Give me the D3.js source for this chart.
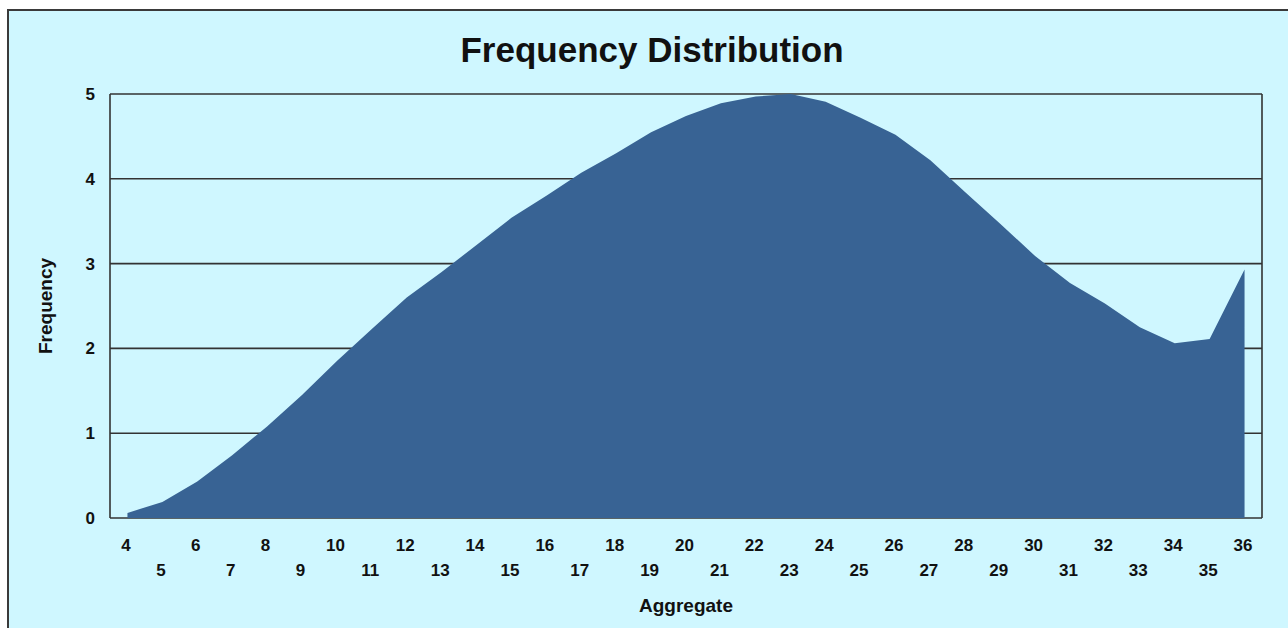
<!DOCTYPE html>
<html>
<head>
<meta charset="utf-8">
<script src="https://cdn.jsdelivr.net/npm/d3@7"></script>
<style>
  html, body { margin: 0; padding: 0; background: #ffffff; }
  svg { display: block; }
  text { font-family: "Liberation Sans", Arial, sans-serif; fill: #111; }
</style>
</head>
<body>
<svg id="chart" width="1288" height="628"></svg>
<script>
// ---- data ----
const categories = [4,5,6,7,8,9,10,11,12,13,14,15,16,17,18,19,20,21,22,23,24,25,26,27,28,29,30,31,32,33,34,35,36];
const frequency  = [0.06,0.19,0.43,0.74,1.08,1.45,1.85,2.23,2.6,2.9,3.22,3.54,3.8,4.07,4.3,4.55,4.74,4.89,4.97,5.0,4.91,4.72,4.52,4.22,3.84,3.47,3.09,2.77,2.53,2.25,2.06,2.11,2.93];
const yTicks = [0,1,2,3,4,5];
const title = "Frequency Distribution";
const xTitle = "Aggregate";
const yTitle = "Frequency";

// ---- layout ----
const W = 1288, H = 628;
const plot = { left: 110, right: 1262, top: 94, bottom: 518 };
const svg = d3.select("#chart");

// outer frame
svg.append("rect")
  .attr("x", 8).attr("y", 10).attr("width", W + 20).attr("height", H + 20)
  .attr("fill", "#cff7ff").attr("stroke", "#3a3a3a").attr("stroke-width", 2);

const x = d3.scalePoint().domain(categories).range([plot.left, plot.right]).padding(0.5);
const y = d3.scaleLinear().domain([0, 5]).range([plot.bottom, plot.top]);

// grid lines (horizontal)
svg.append("g").selectAll("line").data(yTicks).join("line")
  .attr("x1", plot.left).attr("x2", plot.right)
  .attr("y1", d => y(d)).attr("y2", d => y(d))
  .attr("stroke", "#333").attr("stroke-width", 1.6);

// left and right plot borders
svg.append("line").attr("x1", plot.left).attr("x2", plot.left)
  .attr("y1", plot.top).attr("y2", plot.bottom)
  .attr("stroke", "#333").attr("stroke-width", 1.6);
svg.append("line").attr("x1", plot.right).attr("x2", plot.right)
  .attr("y1", plot.top).attr("y2", plot.bottom)
  .attr("stroke", "#333").attr("stroke-width", 1.6);

// area
const data = categories.map((c, i) => ({ c, v: frequency[i] }));
const area = d3.area()
  .x(d => x(d.c))
  .y0(y(0))
  .y1(d => y(d.v))
  .curve(d3.curveLinear);
svg.append("path").datum(data)
  .attr("d", area)
  .attr("fill", "#386394");

// y axis labels
const yAxis = d3.axisLeft(y).tickValues(yTicks).tickFormat(d3.format("d")).tickSize(0).tickPadding(15);
const gy = svg.append("g").attr("transform", `translate(${plot.left},0)`).call(yAxis);
gy.select(".domain").remove();
gy.selectAll("text")
  .style("font-family", '"Liberation Sans", Arial, sans-serif')
  .style("font-size", "17px").style("font-weight", "bold").attr("fill", "#222");

// x axis labels (staggered)
const xAxis = d3.axisBottom(x).tickSize(0).tickPadding(0);
const gx = svg.append("g").attr("transform", `translate(0,${plot.bottom})`).call(xAxis);
gx.select(".domain").remove();
gx.selectAll("text")
  .style("font-family", '"Liberation Sans", Arial, sans-serif')
  .style("font-size", "17px").style("font-weight", "bold").attr("fill", "#222")
  .attr("dy", null)
  .attr("x", -2)
  .attr("y", (d, i) => (i % 2 === 0 ? 33 : 58));

// titles
svg.append("text").attr("x", 652).attr("y", 62)
  .attr("text-anchor", "middle")
  .style("font-size", "35px").style("font-weight", "bold")
  .text(title);

svg.append("text").attr("x", (plot.left + plot.right) / 2).attr("y", 612)
  .attr("text-anchor", "middle")
  .style("font-size", "19px").style("font-weight", "bold").attr("fill", "#222")
  .text(xTitle);

svg.append("text")
  .attr("transform", `translate(52,${(plot.top + plot.bottom) / 2}) rotate(-90)`)
  .attr("text-anchor", "middle")
  .style("font-size", "19px").style("font-weight", "bold").attr("fill", "#222")
  .text(yTitle);
</script>
</body>
</html>
